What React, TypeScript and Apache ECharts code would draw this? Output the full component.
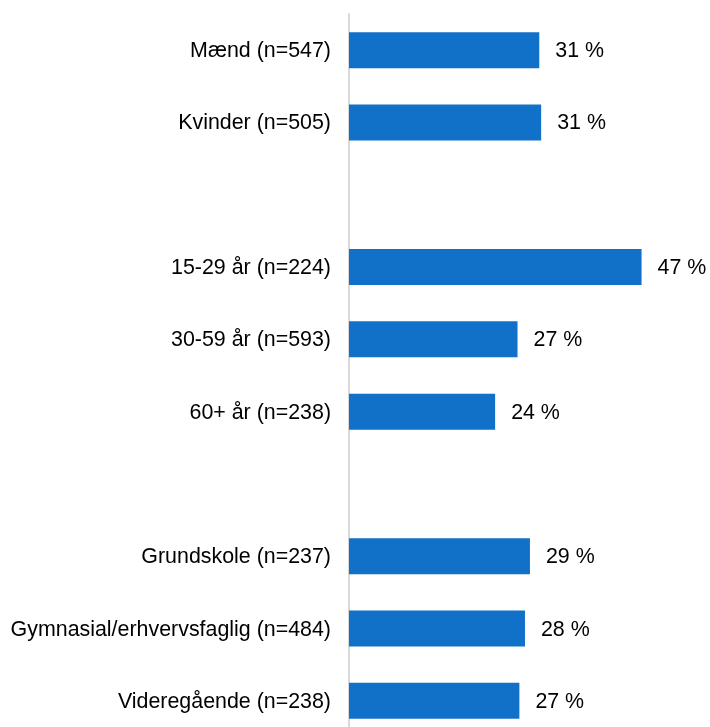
import React, { useEffect, useRef } from "react";
import * as echarts from "echarts";

const categories = [
  "Mænd (n=547)",
  "Kvinder (n=505)",
  "",
  "15-29 år (n=224)",
  "30-59 år (n=593)",
  "60+ år (n=238)",
  " ",
  "Grundskole (n=237)",
  "Gymnasial/erhvervsfaglig (n=484)",
  "Videregående (n=238)",
];

const values: (number | null)[] = [30.6, 30.9, null, 47.05, 27.1, 23.5, null, 29.1, 28.3, 27.4];

const FONT = "Arial, 'Liberation Sans', sans-serif";

export default function App() {
  const ref = useRef<HTMLDivElement>(null);
  useEffect(() => {
    if (!ref.current) return;
    document.body.style.overflow = "hidden";
    document.documentElement.style.overflow = "hidden";
    const chart = echarts.init(ref.current, undefined, { renderer: "svg" });
    chart.setOption({
      animation: false,
      grid: { left: 349, top: 14, bottom: 6, width: 342, containLabel: false },
      xAxis: {
        type: "value",
        min: 0,
        max: 55,
        show: false,
      },
      yAxis: {
        type: "category",
        data: categories,
        inverse: true,
        axisLine: { show: true, lineStyle: { color: "#d9d9d9", width: 2 } },
        axisTick: { show: false },
        axisLabel: {
          color: "#000",
          fontSize: 21.4,
          fontFamily: FONT,
          margin: 18,
        },
        splitLine: { show: false },
      },
      series: [
        {
          type: "bar",
          data: values,
          barWidth: 36,
          itemStyle: { color: "#1170C8" },
          label: {
            show: true,
            position: "right",
            distance: 16,
            color: "#000",
            fontSize: 21.4,
            fontFamily: FONT,
            formatter: (p: any) => (p.value == null ? "" : `${Math.round(p.value)} %`),
          },
        },
      ],
    });
    return () => chart.dispose();
  }, []);
  return (
    <div
      ref={ref}
      style={{ position: "fixed", left: 0, top: 0, width: 710, height: 743 }}
    />
  );
}
